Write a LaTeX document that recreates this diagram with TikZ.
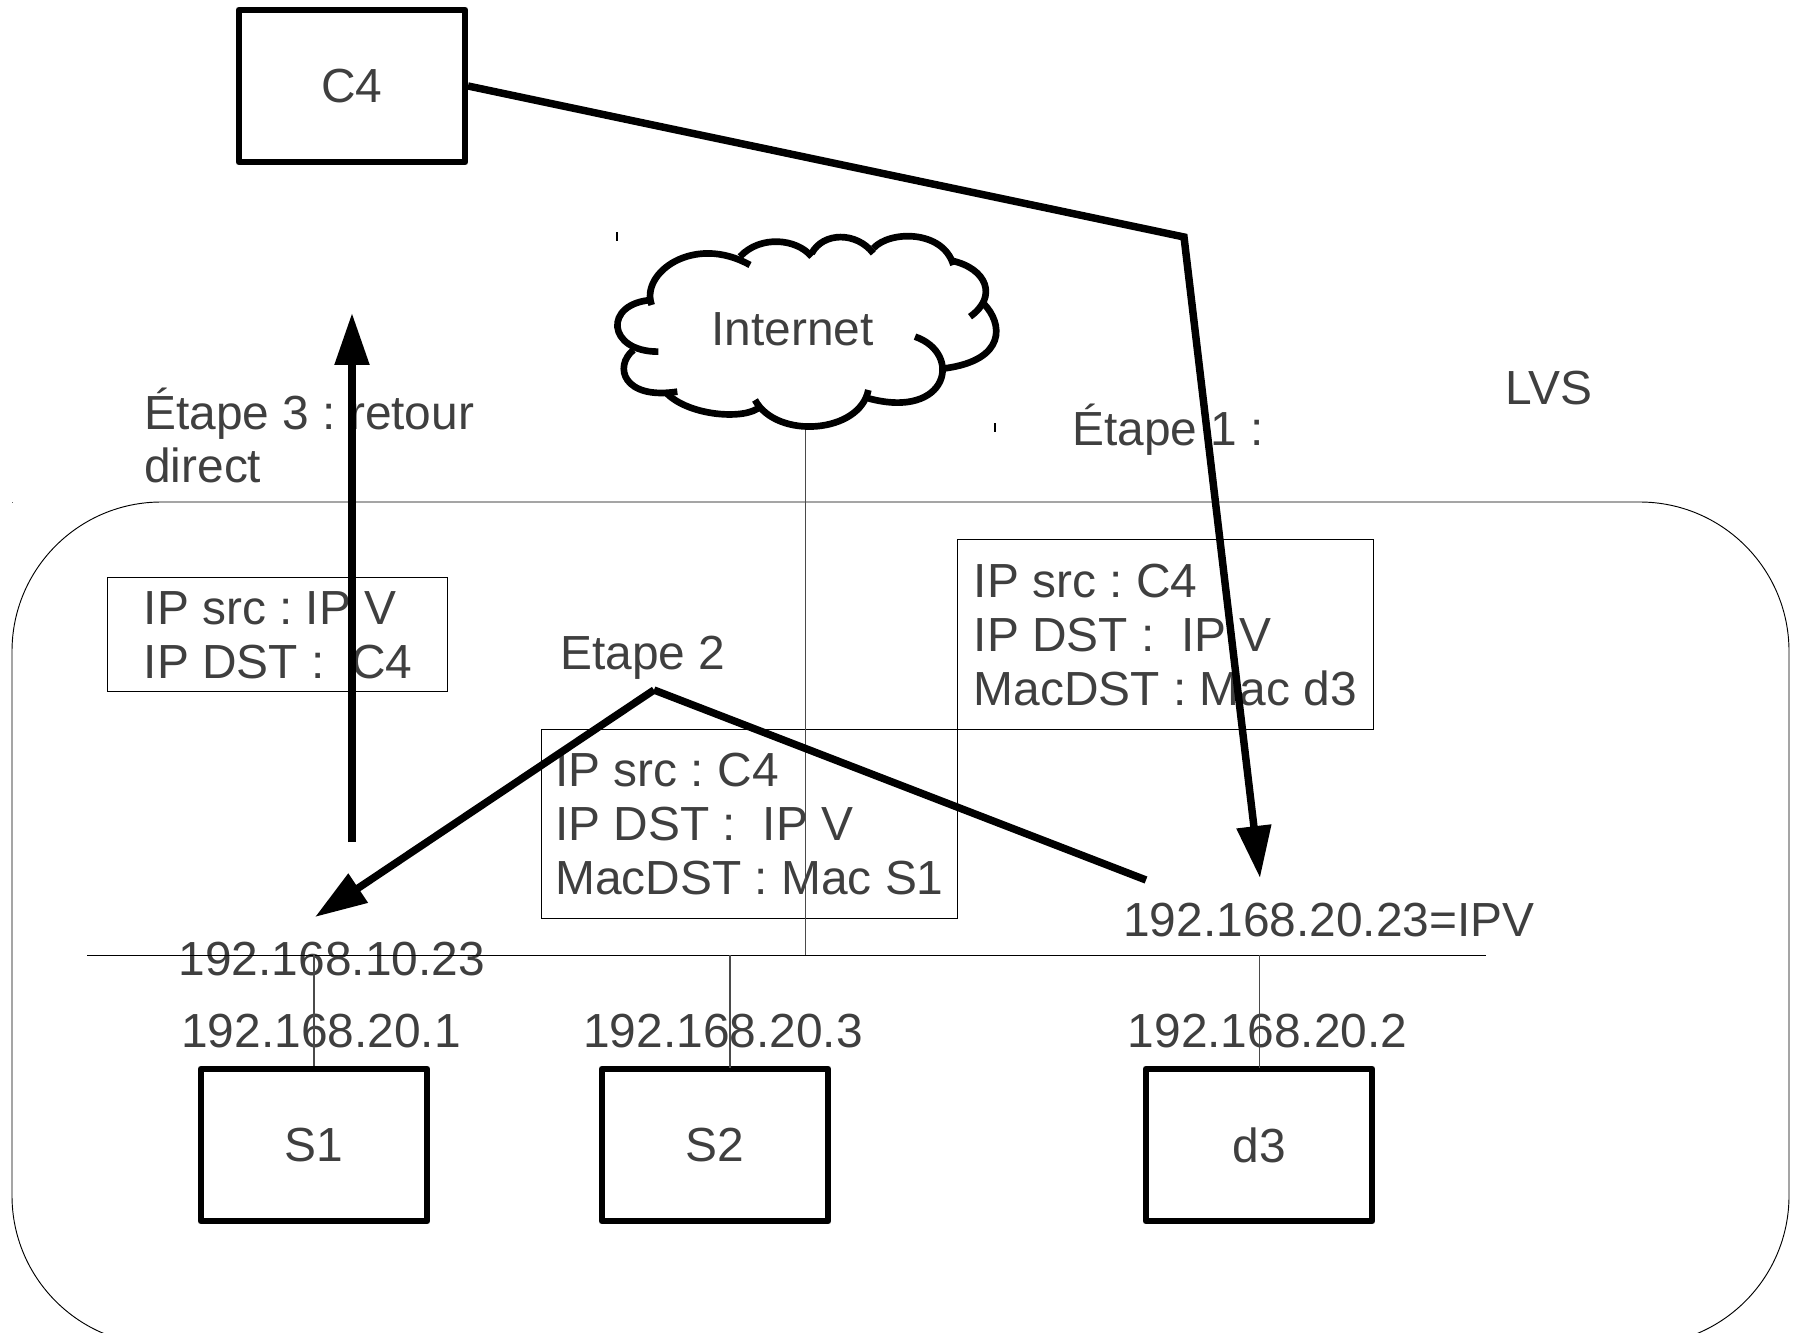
\documentclass[tikz,border=0pt]{standalone}
\usepackage{fontspec}
\setmainfont{Liberation Sans}
\usetikzlibrary{arrows.meta}
\definecolor{txt}{HTML}{3F3F3F}
\definecolor{thinline}{HTML}{4A4A4A}
\tikzset{
  lab/.style={anchor=base west,inner sep=0pt,text=txt,font=\frenchspacing\fontsize{35.9pt}{40pt}\selectfont},
  hostbox/.style={draw=black,line width=5pt,line join=round,minimum width=169.5pt,minimum height=114pt,inner sep=0pt,text=txt,font=\fontsize{35.9pt}{40pt}\selectfont},
  framebox/.style={draw=black,line width=.7pt},
  thick line/.style={draw=black,line width=5.6pt},
  thin link/.style={draw=thinline,line width=.85pt},
  cloudline/.style={draw=black,line width=5pt},
  head/.style={-{Triangle[width=25pt,length=39pt]}},
}
\begin{document}
\begin{tikzpicture}[x=.75pt,y=-.75pt]
\useasboundingbox (0,0) rectangle (1797,1333);
\begin{scope}
\clip (0,0) rectangle (1797,1333);
\draw[framebox,rounded corners=112pt] (12,502) rectangle (1789,1345);
\end{scope}
% frames
\draw[framebox] (107,577) rectangle (447,691);
\draw[framebox] (541,729) rectangle (957,918);
\draw[framebox] (957,539.5) rectangle (1373,729);
\fill[black] (616,232) rectangle (617.5,241);
\fill[black] (994,423) rectangle (995.5,432);
\fill[black!60] (12,501.5) rectangle (13,502.5);
% labels
\node[lab] (l3a) at (144,429.5) {Étape 3 : retour};
\node[lab] (l3b) at (144,482.5) {direct};
\node[lab] (ipa1) at (143.5,624.5) {IP src : IP V};
\node[lab] (ipa2) at (143.5,678.5) {IP DST :\ \ C4};
\node[lab] (e2) at (560,669.5) {Etape 2};
\node[lab] (ipb1) at (555,786.5) {IP src : C4};
\node[lab] (ipb2) at (555,840.5) {IP DST :\ \ IP V};
\node[lab] (ipb3) at (555,894.5) {MacDST : Mac S1};
\node[lab] (ipc1) at (973.5,597.5) {IP src : C4};
\node[lab] (ipc2) at (973.5,651.5) {IP DST :\ \ IP V};
\node[lab] (ipc3) at (973.5,705.5) {MacDST : Mac d3};
\node[lab] (e1) at (1072,445.5) {Étape 1 :};
\node[lab] (lvs) at (1505.5,404) {LVS};
\node[lab] (ipv) at (1123,936.5) {192.168.20.23=IPV};
\node[lab] (a1023) at (178.5,975) {192.168.10.23};
\node[lab] (a1) at (181,1047.5) {192.168.20.1};
\node[lab] (a3) at (583,1047.5) {192.168.20.3};
\node[lab] (a2) at (1127.5,1047.5) {192.168.20.2};
\node[lab] (inet) at (711,346) {Internet};
% hosts
\node[hostbox] (c4) at (352,86) {C4};
\node[hostbox] (s1) at (314,1145) {S1};
\node[hostbox] (s2) at (715,1145) {S2};
\node[hostbox] (d3) at (1259,1145) {d3};
% bus
\coordinate (busl) at (87,955);
\coordinate (busr) at (1486,955);
\coordinate (bs1) at (314,955);
\coordinate (bs2) at (730,955);
\coordinate (bd3) at (1259.5,955);
\coordinate (bnet) at (805.5,955);
\coordinate (cloudb) at (805.5,428);
\coordinate (s2t) at (730,1068);
\coordinate (d3t) at (1259.5,1068);
\draw[draw=black,line width=.7pt] (busl) -- (busr);
\draw[thin link] (bs1) -- (s1.north);
\draw[thin link] (bs2) -- (s2t);
\draw[thin link] (bd3) -- (d3t);
\draw[thin link] (cloudb) -- (bnet);
% cloud
\begin{scope}[shift={(590,210)},x=.25pt,y=-.25pt,cloudline]
\draw (185,285) .. controls (150,190) and (310,70) .. (480,165);
\draw (450,140) .. controls (510,75) and (620,85) .. (665,140);
\draw (665,130) .. controls (700,65) and (800,65) .. (850,130);
\draw (850,115) .. controls (900,60) and (1060,60) .. (1090,165);
\draw (1085,152) .. controls (1190,175) and (1225,260) .. (1140,320);
\draw (1180,280) .. controls (1240,340) and (1250,450) .. (1065,475);
\draw (975,380) .. controls (1120,430) and (1075,630) .. (835,565);
\draw (835,540) .. controls (810,670) and (560,690) .. (495,570);
\draw (510,590) .. controls (470,630) and (300,620) .. (230,550);
\draw (262,545) .. controls (100,570) and (70,470) .. (130,420);
\draw (205,425) .. controls (50,425) and (40,280) .. (185,270);
\end{scope}
% thick connectors
\coordinate (c4out) at (468,86);
\coordinate (bend) at (1184,237);
\coordinate (d3tip) at (1260,878);
\coordinate (apex) at (654,690);
\coordinate (d3in) at (1146,880);
\coordinate (s1tip) at (315,917);
\coordinate (upfrom) at (352,842);
\coordinate (uptip) at (352,313);
\draw[thick line,head] (c4out) -- (bend) -- (d3tip);
\draw[thick line,head] (upfrom) -- (uptip);
\draw[thick line,head] (apex) -- (s1tip);
\draw[thick line] (apex) -- (d3in);
\end{tikzpicture}
\end{document}
